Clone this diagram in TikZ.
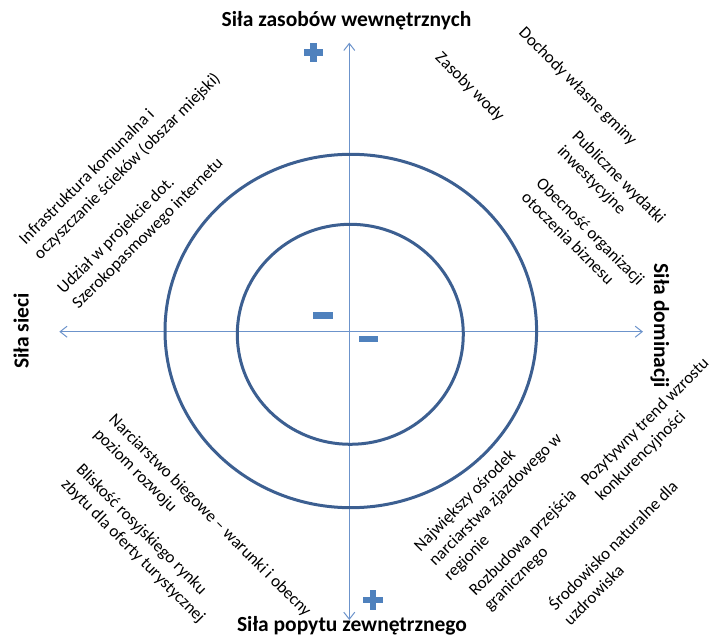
\documentclass[tikz,border=0pt]{standalone}
\usepackage{fontspec}
\setmainfont{Carlito}
\usetikzlibrary{arrows.meta}
\definecolor{ringblue}{HTML}{3C5F91}
\definecolor{axisblue}{HTML}{6C93CB}
\definecolor{signblue}{HTML}{4F81BD}
\tikzset{
  factor label/.style = {
    align = left,
    inner sep = 0pt,
    anchor = west,
    rotate = #1,
    font = \fontsize{17}{21}\selectfont},
  force label/.style = {
    inner sep = 0pt,
    anchor = base,
    font = \fontsize{21.5}{25}\selectfont\bfseries},
  sign bar/.style = {
    shape = rectangle,
    fill = signblue,
    inner sep = 0pt,
    minimum width = 19.5pt,
    minimum height = 6.5pt},
  axis line/.style = {
    draw = axisblue,
    line width = 1pt,
    {Straight Barb[length=7pt,width=11pt]}-{Straight Barb[length=7pt,width=11pt]}},
  ring line/.style = {draw = ringblue, line width = 3pt}
}

\begin{document}
\begin{tikzpicture}[x = 1pt, y = -1pt]
  \useasboundingbox (0,0) rectangle (715,636);
  % axes
  \coordinate (top end) at (349.3,42.7);
  \coordinate (bottom end) at (349.3,620);
  \coordinate (left end) at (59.3,331.7);
  \coordinate (right end) at (643,331.7);
  \draw[axis line] (bottom end) -- (top end);
  \draw[axis line] (left end) -- (right end);
  % rings
  \draw[ring line] (350.8,331) ellipse [x radius = 185.8pt, y radius = 176.7pt];
  \draw[ring line] (350.3,334.3) ellipse [x radius = 113pt, y radius = 110pt];
  % forces
  \node[force label] (resources) at (346.5,27) {Siła zasobów wewnętrznych};
  \node[force label] (demand) at (352,631.5) {Siła popytu zewnętrznego};
  \node[force label, rotate = 90] (network) at (28.5,331) {Siła sieci};
  \node[force label, rotate = -90] (dominance) at (654,326) {Siła dominacji};
  % signs
  \node[sign bar] (plus top h) at (313.3,52.5) {};
  \node[sign bar, rotate = 90] (plus top v) at (313.3,52.5) {};
  \node[sign bar] (plus bottom h) at (373,600) {};
  \node[sign bar, rotate = 90] (plus bottom v) at (373,600) {};
  \node[sign bar] (minus inner) at (323,315.5) {};
  \node[sign bar] (minus outer) at (368.5,339) {};
  % factors
  \node[factor label = 45] (infra) at (29.7,249.7) {Infrastruktura komunalna i\\oczyszczanie ścieków (obszar miejski)};
  \node[factor label = 45] (broadband) at (68,299) {Udział w projekcie dot.\\Szerokopasmowego internetu};
  \node[factor label = -45] (water) at (437.8,55.5) {Zasoby wody};
  \node[factor label = -45] (income) at (521.1,30.5) {Dochody własne gminy};
  \node[factor label = -45] (spending) at (567,141.4) {Publiczne wydatki\\inwestycyjne};
  \node[factor label = -45] (business) at (532,187.2) {Obecność organizacji\\otoczenia biznesu};
  \node[factor label = -45] (crosscountry) at (103.6,424.7) {Narciarstwo biegowe – warunki i obecny\\poziom rozwoju};
  \node[factor label = -45] (russia) at (71.1,474.7) {Bliskość rosyjskiego rynku\\zbytu dla oferty turystycznej};
  \node[factor label = 45] (downhill) at (432.2,563.9) {Największy ośrodek\\narciarstwa zjazdowego w\\regionie};
  \node[factor label = 45] (crossing) at (479.7,601.4) {Rozbudowa przejścia\\granicznego};
  \node[factor label = 45] (trend) at (591.4,491.4) {Pozytywny trend wzrostu\\konkurencyjności};
  \node[factor label = 45] (spa) at (558,613.9) {Środowisko naturalne dla\\uzdrowiska};
\end{tikzpicture}
\end{document}
